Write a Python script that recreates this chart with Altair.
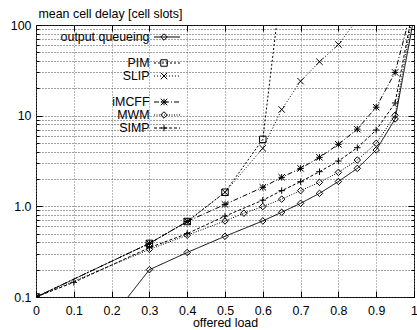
import altair as alt
import pandas as pd

# ---------------- data ----------------
series_names = ["output queueing", "PIM", "SLIP", "iMCFF", "MWM", "SIMP"]

oq_load = [0.2, 0.3, 0.4, 0.5, 0.6, 0.65, 0.7, 0.75, 0.8, 0.85, 0.9, 0.95, 1.0]
oq_delay = [0.059, 0.2, 0.31, 0.467, 0.69, 0.86, 1.08, 1.39, 1.88, 2.62, 4.18, 9.2, 122]

pim_load = [0.0, 0.3, 0.4, 0.5, 0.6, 0.65]
pim_delay = [0.1, 0.39, 0.68, 1.43, 5.48, 300]

slip_load = [0.0, 0.3, 0.4, 0.5, 0.6, 0.65, 0.7, 0.75, 0.8, 0.85]
slip_delay = [0.1, 0.39, 0.68, 1.43, 4.36, 11.7, 24.0, 39.3, 61.0, 115]

imcff_load = [0.0, 0.3, 0.4, 0.5, 0.6, 0.65, 0.7, 0.75, 0.8, 0.85, 0.9, 0.95, 0.99]
imcff_delay = [0.1, 0.39, 0.68, 1.05, 1.62, 2.09, 2.62, 3.47, 4.83, 7.1, 12.4, 30.0, 130]

mwm_load = [0.0, 0.3, 0.4, 0.5, 0.55, 0.6, 0.65, 0.7, 0.75, 0.8, 0.85, 0.9, 0.95, 0.995]
mwm_delay = [0.1, 0.335, 0.48, 0.69, 0.84, 0.995, 1.20, 1.49, 1.84, 2.37, 3.24, 4.95, 10.1, 120]

simp_load = [0.0, 0.1, 0.3, 0.4, 0.5, 0.6, 0.65, 0.7, 0.75, 0.8, 0.85, 0.9, 0.95, 0.995]
simp_delay = [0.1, 0.145, 0.35, 0.50, 0.78, 1.17, 1.49, 1.87, 2.41, 3.16, 4.43, 6.94, 13.8, 135]

x_ticks = [0, 0.1, 0.2, 0.3, 0.4, 0.5, 0.6, 0.7, 0.8, 0.9, 1]
y_decades = [0.1, 1, 10, 100]
y_decade_labels = ["0.1", "1.0", "10", "100"]
y_minor = [round(m * d, 6) for d in [0.1, 1, 10] for m in range(2, 10)]
y_all = sorted(y_decades + y_minor)

legend_entries = ["output queueing", " ", "PIM", "SLIP", "  ", "iMCFF", "MWM", "SIMP"]

# ---------------- table ----------------
rows = []
for name, xs_, ys_ in [
    ("output queueing", oq_load, oq_delay),
    ("PIM", pim_load, pim_delay),
    ("SLIP", slip_load, slip_delay),
    ("iMCFF", imcff_load, imcff_delay),
    ("MWM", mwm_load, mwm_delay),
    ("SIMP", simp_load, simp_delay),
]:
    for a, b in zip(xs_, ys_):
        rows.append({"series": name, "load": a, "delay": b})
df = pd.DataFrame(rows)

# ---------------- styles ----------------
FONT = "Liberation Sans"
FS = 12.4
dashes = {
    "output queueing": [],
    "PIM": [2, 2],
    "SLIP": [1, 2],
    "iMCFF": [5, 2, 1, 2],
    "MWM": [1, 1.5],
    "SIMP": [3, 2],
}
cross = [[(-1, -1), (1, 1)], [(-1, 1), (1, -1)]]
plus = [[(-1, 0), (1, 0)], [(0, -1), (0, 1)]]
diamond = [[(-1, 0), (0, -1), (1, 0), (0, 1), (-1, 0)]]
square = [[(-1, -1), (1, -1), (1, 1), (-1, 1), (-1, -1)]]
markers = {
    "output queueing": diamond,
    "PIM": square,
    "SLIP": cross,
    "iMCFF": plus + cross,
    "MWM": diamond,
    "SIMP": plus,
}


def poly_path(polys, s=1.0, dx=0.0):
    out = []
    for poly in polys:
        out.append("M" + "L".join(f"{x * s + dx:.3f},{y * s:.3f}" for x, y in poly))
    return "".join(out)


def dash_path(pattern, r, half):
    # horizontal sample line from -half to +half pixels, in units of r
    a, b = -half / r, half / r
    if not pattern:
        return f"M{a:.3f},0L{b:.3f},0"
    segs = []
    x = a
    i = 0
    while x < b:
        ln = pattern[i % len(pattern)] / r
        if i % 2 == 0:
            segs.append(f"M{x:.3f},0L{min(x + ln, b):.3f},0")
        x += ln
        i += 1
    return "".join(segs)


POINT_SIZE = 42
LEG_SIZE = 144
leg_r = LEG_SIZE ** 0.5 / 2
pt_r = POINT_SIZE ** 0.5 / 2
SAMPLE_HALF = 13

point_paths = [poly_path(markers[n]) for n in series_names]
legend_paths = []
for e in legend_entries:
    if e in markers:
        legend_paths.append(
            dash_path(dashes[e], leg_r, SAMPLE_HALF)
            + poly_path(markers[e], pt_r / leg_r, -3 / leg_r)
        )
    else:
        legend_paths.append("M0,0")

dash_range = [dashes[n] if dashes[n] else [1, 0] for n in series_names]

xs = alt.Scale(domain=[0, 1], nice=False, zero=False)
ys = alt.Scale(type="log", domain=[0.1, 100], nice=False)

label_expr = " : ".join(
    f"datum.value == {v} ? '{l}'" for v, l in zip(y_decades, y_decade_labels)
) + " : ''"

main_x = alt.Axis(
    values=x_ticks, format="~g", title="offered load", grid=True, gridColor="#777",
    gridDash=[1, 2], gridWidth=1, domain=False, ticks=False, labelPadding=7,
    labelFlush=False, labelOverlap=False, labelFontSize=FS, titleFontSize=FS,
    titleFontWeight="normal", titleY=29, titleBaseline="alphabetic",
)
main_y = alt.Axis(
    values=y_all, labelExpr=label_expr, grid=True, gridColor="#444", gridDash=[1, 2],
    gridWidth=1, domain=False, ticks=False, labelPadding=5, labelOverlap=False,
    labelFlush=False, labelFontSize=FS, title="mean cell delay [cell slots]",
    titleAngle=0, titleAlign="left", titleX=2, titleY=-8, titleBaseline="alphabetic",
    titleFontSize=FS, titleFontWeight="normal",
)


def tick_axis(orient, vals, size):
    return alt.Axis(
        orient=orient, values=vals, offset=-size, tickSize=size, labels=False,
        domain=False, grid=False, title=None, tickColor="black", tickWidth=1,
    )


base = alt.Chart(df)

lines = base.mark_line(clip=True, color="black", strokeWidth=1).encode(
    x=alt.X("load:Q", scale=xs, axis=main_x),
    y=alt.Y("delay:Q", scale=ys, axis=main_y),
    strokeDash=alt.StrokeDash(
        "series:N", scale=alt.Scale(domain=series_names, range=dash_range), legend=None
    ),
)

points = base.mark_point(
    clip=True, filled=False, color="black", size=POINT_SIZE, strokeWidth=1, opacity=1
).encode(
    x=alt.X("load:Q", scale=xs, axis=None),
    y=alt.Y("delay:Q", scale=ys, axis=None),
    shape=alt.Shape(
        "series:N", scale=alt.Scale(domain=series_names, range=point_paths), legend=None
    ),
)

legend_layer = base.mark_point(
    filled=False, color="black", size=LEG_SIZE, strokeWidth=1, opacity=1
).encode(
    x=alt.X("load:Q", scale=xs, axis=None),
    y=alt.Y("delay:Q", scale=ys, axis=None),
    shape=alt.Shape(
        "series:N",
        scale=alt.Scale(domain=legend_entries, range=legend_paths),
        legend=alt.Legend(
            orient="none", legendX=124.5, legendY=5.5, title=None, padding=0, offset=0,
            symbolSize=LEG_SIZE, symbolStrokeWidth=1, symbolStrokeColor="black",
            symbolFillColor="transparent", symbolOpacity=1, symbolOffset=0,
            labelAlign="right", labelOffset={"expr": "-24"}, labelFont=FONT,
            labelFontSize=FS, labelColor="black", rowPadding=0, labelLimit=300,
        ),
    ),
).transform_filter("false")


def tick_layer(xaxis, yaxis):
    return base.mark_point(opacity=0).encode(
        x=alt.X("load:Q", scale=xs, axis=xaxis),
        y=alt.Y("delay:Q", scale=ys, axis=yaxis),
    ).transform_filter("false")


t1 = tick_layer(tick_axis("bottom", x_ticks, 6), tick_axis("left", y_decades, 6))
t2 = tick_layer(tick_axis("top", x_ticks, 6), tick_axis("left", y_minor, 3))
t3 = tick_layer(None, tick_axis("right", y_decades, 6))
t4 = tick_layer(None, tick_axis("right", y_minor, 3))

chart = (
    alt.layer(lines, points, legend_layer, t1, t2, t3, t4)
    .resolve_scale(shape="independent")
    .resolve_axis(x="independent", y="independent")
    .properties(
        width=378,
        height=272,
        autosize=alt.AutoSizeParams(type="none"),
        padding={"left": 36, "top": 25, "right": 3, "bottom": 33},
        background="white",
    )
    .configure_view(stroke="black", strokeWidth=1)
    .configure_axis(labelFont=FONT, titleFont=FONT, labelColor="black", titleColor="black")
)

chart.save("out.html", embed_options={"renderer": "svg", "actions": False})
